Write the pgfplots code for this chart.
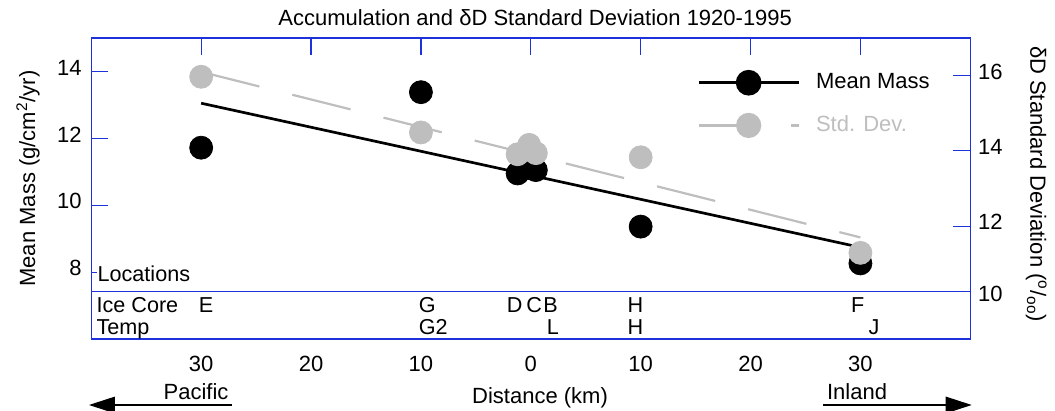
\documentclass[border=0pt]{standalone}
\usepackage{fontspec}
\setmainfont{Liberation Sans}
\usepackage{pgfplots}
\pgfplotsset{compat=1.18}
\usetikzlibrary{arrows.meta}
\definecolor{axblue}{RGB}{30,50,220}
\definecolor{mygray}{RGB}{190,190,190}
\begin{document}
\fontsize{11pt}{13pt}\selectfont
\begin{tikzpicture}
\path[use as bounding box] (-45.65pt,-36pt) rectangle (481.85pt,169.5pt);
\begin{axis}[
  scale only axis, width=439.5pt, height=150.5pt,
  xmin=-40, xmax=40, ymin=6, ymax=15,
  axis line style={draw=axblue, line width=0.6pt},
  every tick/.style={draw=axblue, line width=0.6pt},
  tick align=inside,
  major tick length=8.5pt,
  xtick={-30,-20,...,30}, xticklabels={30,20,10,0,10,20,30},
  xtick pos=right, xticklabel pos=left,
  ytick={8,10,12,14}, ytick pos=left,
  /pgf/number format/assume math mode=true,
  tick label style={font=\fontsize{11pt}{13pt}\selectfont},
  yticklabel style={yshift=2pt, xshift=-1pt},
  xticklabel style={yshift=-4.6pt},
  xlabel={Distance (km)},
  every axis x label/.style={at={(axis description cs:0.5105,0)}, anchor=base, yshift=-32.5pt, font=\fontsize{11pt}{13pt}\selectfont},
  ylabel={Mean Mass (g/cm\textsuperscript{2}/yr)},
  every axis y label/.style={at={(axis description cs:-0.072,0.533)}, rotate=90, anchor=center, font=\fontsize{11pt}{13pt}\selectfont},
  title={Accumulation and δD Standard Deviation 1920-1995},
  every axis title/.style={at={(axis description cs:0.505,1)}, anchor=base, yshift=6pt, font=\fontsize{11pt}{13pt}\selectfont},
  clip=false,
]
\addplot[black, line width=1.35pt, no marks, forget plot] coordinates {(-30,13.05) (30,8.74)};
\addplot[only marks, mark=*, mark size=5.75pt, black, forget plot] coordinates {(-30,11.72) (-10,13.38) (-1.2,10.95) (-0.15,11.11) (0.46,11.05) (10,9.36) (30,8.26)};
\draw[axblue, line width=0.6pt] (axis cs:-40,7.425) -- (axis cs:40,7.425);
\begin{scope}[every node/.style={inner sep=0pt, font=\fontsize{10.8pt}{12pt}\selectfont}]
\node[anchor=base west, fill=white, inner sep=0.5pt] at (axis cs:-39.55,7.712) {Locations};
\node[anchor=base west] at (axis cs:-39.55,6.79) {Ice Core};
\node[anchor=base west] at (axis cs:-39.55,6.12) {Temp};
\node[anchor=base] at (axis cs:-29.56,6.79) {E};
\node[anchor=base west] at (axis cs:-10.22,6.79) {G};
\node[anchor=base west] at (axis cs:-10.22,6.12) {G2};
\node[anchor=base] at (axis cs:-1.47,6.79) {D};
\node[anchor=base] at (axis cs:0.31,6.79) {C};
\node[anchor=base] at (axis cs:1.81,6.79) {B};
\node[anchor=base] at (axis cs:2.0,6.12) {L};
\node[anchor=base] at (axis cs:9.53,6.79) {H};
\node[anchor=base] at (axis cs:9.53,6.12) {H};
\node[anchor=base] at (axis cs:29.76,6.79) {F};
\node[anchor=base] at (axis cs:31.25,6.12) {J};
\end{scope}
\end{axis}
\begin{axis}[
  scale only axis, width=439.5pt, height=150.5pt,
  xmin=-40, xmax=40, ymin=9, ymax=17,
  axis x line=none, axis y line*=right,
  axis line style={draw=axblue, line width=0.6pt},
  every tick/.style={draw=axblue, line width=0.6pt},
  tick align=inside,
  major tick length=8.5pt,
  ytick={12,14,16},
  extra y ticks={10.1}, extra y tick labels={10},
  extra y tick style={tick style={draw=none}},
  /pgf/number format/assume math mode=true,
  tick label style={font=\fontsize{11pt}{13pt}\selectfont},
  yticklabel style={yshift=2pt},
  ylabel={δD Standard Deviation (\textsuperscript{o}/\textsubscript{oo})},
  every axis y label/.style={at={(axis description cs:1.075,0.515)}, rotate=-90, anchor=center, font=\fontsize{11pt}{13pt}\selectfont},
  clip=false,
  legend style={draw=none, fill=none, at={(axis description cs:0.689,0.891)}, anchor=north west, inner sep=0pt, row sep=9.85pt, column sep=8pt, font=\fontsize{11pt}{13pt}\selectfont, nodes={inner sep=0pt}},
  legend cell align=left,
  legend image code/.code={\draw[mark repeat=2, mark phase=2, #1] plot coordinates {(0pt,0pt) (25pt,0pt) (50pt,0pt)};},
]
\addlegendimage{black, line width=1.35pt, mark=*, mark size=5.75pt, mark options={solid}}
\addlegendentry{Mean Mass}
\addlegendimage{mygray, line width=1.1pt, dash pattern=on 29.5pt off 16.5pt, mark=*, mark size=5.75pt, mark options={solid}}
\addlegendentry{\textcolor{mygray}{Std. Dev.}}
\addplot[mygray, line width=1.1pt, no marks, dash pattern=on 30pt off 17pt, forget plot] coordinates {(-30,16.10) (30,11.70)};
\addplot[only marks, mark=*, mark size=5.75pt, mygray, forget plot] coordinates {(-30,15.97) (-10,14.49) (-1.2,13.91) (-0.15,14.16) (0.46,13.94) (10,13.83) (30,11.29)};
\end{axis}
\draw[line width=0.6pt, -{Triangle[length=13pt,width=8.3pt]}] (70.35pt,-33pt) -- (-1.15pt,-33pt);
\draw[line width=0.6pt, -{Triangle[length=13pt,width=8.3pt]}] (366pt,-33pt) -- (440.2pt,-33pt);
\node[anchor=base west, inner sep=0pt] at (36pt,-30.15pt) {Pacific};
\node[anchor=base west, inner sep=0pt] at (367.7pt,-30.15pt) {Inland};
\end{tikzpicture}
\end{document}
